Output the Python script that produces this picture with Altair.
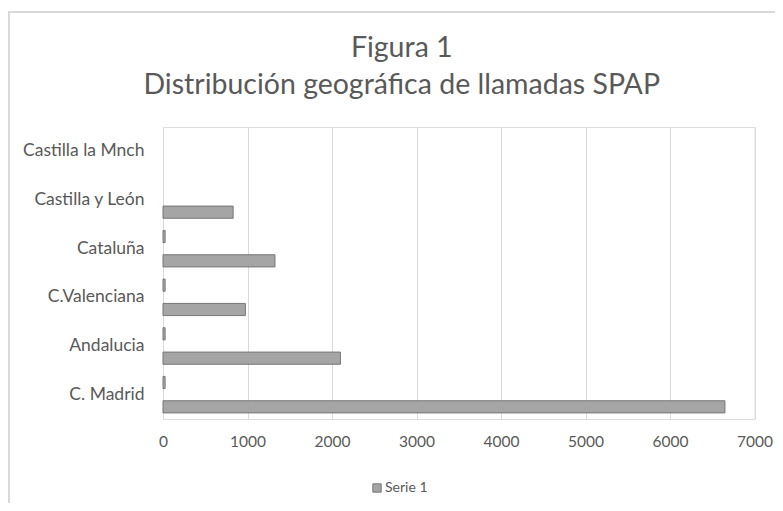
import altair as alt
import pandas as pd

categories = ["Castilla la Mnch", "Castilla y León\u00a0", "Cataluña", "C.Valenciana", "Andalucia", "C. Madrid"]
serie1 = [0, 830, 1325, 975, 2100, 6650]
serie2 = [0, 0, 0, 0, 0, 0]
serie3 = [0, 0, 25, 25, 25, 25]
series_names = ["Serie 3", "Serie 2", "Serie 1"]
x_ticks = [0, 1000, 2000, 3000, 4000, 5000, 6000, 7000]

rows = []
for name, vals in (("Serie 1", serie1), ("Serie 2", serie2), ("Serie 3", serie3)):
    for c, v in zip(categories, vals):
        rows.append({"region": c, "serie": name, "value": v})
df = pd.DataFrame(rows)

FONT = "Lato"
TXT = "#595959"
GRID = "#d9d9d9"

bars = alt.Chart(df).transform_filter("datum.value > 0").mark_bar(
    stroke="#767676", strokeWidth=1
).encode(
    x=alt.X("value:Q", scale=alt.Scale(domain=[0, 7000], nice=False),
            axis=alt.Axis(values=x_ticks, format="d", title=None, domain=False, ticks=False,
                          grid=True, gridColor=GRID, gridWidth=1, labelPadding=15,
                          labelFlush=False,
                          labelFont=FONT, labelFontSize=15.5, labelColor=TXT)),
    y=alt.Y("region:N", sort=categories,
            scale=alt.Scale(domain=categories, paddingInner=0, paddingOuter=0),
            axis=alt.Axis(title=None, domain=False, ticks=False, grid=False, labelPadding=19,
                          labelFont=FONT, labelFontSize=17.5, labelColor=TXT, labelLimit=300)),
    yOffset=alt.YOffset("serie:N", sort=series_names,
                        scale=alt.Scale(domain=series_names, paddingInner=0, paddingOuter=0.5)),
    color=alt.Color("serie:N",
                    scale=alt.Scale(domain=["Serie 1", "Serie 2", "Serie 3"],
                                    range=["#a5a5a5", "#a5a5a5", "#a9a9a9"]),
                    legend=alt.Legend(values=["Serie 1"], title=None, orient="none",
                                      legendX=207, legendY=354, symbolType="square",
                                      symbolSize=70, symbolStrokeColor="#767676",
                                      symbolStrokeWidth=1, labelFont=FONT, labelFontSize=14,
                                      labelColor=TXT, padding=0, labelOffset=1)),
)

border_top = alt.Chart(df).mark_rule(color=GRID, strokeWidth=1.5).encode(
    x=alt.value(-155), x2=alt.value(640), y=alt.value(-115), y2=alt.value(-115))
border_left = alt.Chart(df).mark_rule(color=GRID, strokeWidth=1.5).encode(
    x=alt.value(-154.5), x2=alt.value(-154.5), y=alt.value(-115), y2=alt.value(400))

chart = alt.layer(bars, border_top, border_left).properties(
    width=591.5, height=292,
    title=alt.TitleParams(text=["Figura 1", "Distribución geográfica de llamadas SPAP"],
                          font=FONT, fontSize=28.5, fontWeight="normal", color=TXT,
                          anchor="middle", dx=-57, offset=-88, lineHeight=37),
    autosize=alt.AutoSizeParams(type="none"),
    padding={"left": 155, "top": 119, "right": 20, "bottom": 84},
).configure_view(strokeWidth=0).configure(background="white")

chart.save("out.html", embed_options={"renderer": "svg", "actions": False})
